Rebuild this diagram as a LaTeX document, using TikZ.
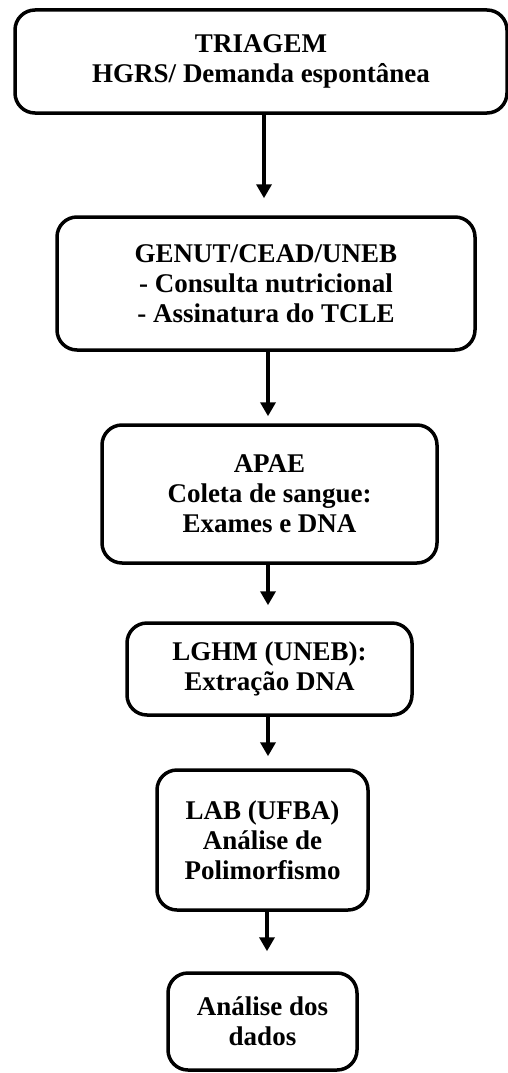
\documentclass[tikz,border=0pt]{standalone}
\usepackage{fontspec}
\setmainfont{Liberation Serif}
\usetikzlibrary{arrows.meta}
\begin{document}
\begin{tikzpicture}[x=1pt,y=-1pt,
  box/.style={draw,line width=3.5pt,rounded corners=20pt,align=center,
    font=\fontsize{27}{30}\selectfont\bfseries,inner sep=0pt},
  arr/.style={line width=3.8pt,-{Triangle[width=15pt,length=14pt]}}]
\useasboundingbox (0,0) rectangle (508,1073);
\node[box,minimum width=492pt,minimum height=103pt] (b1) at (261,61.5)
  {TRIAGEM\\HGRS/ Demanda espontânea};
\node[box,minimum width=418pt,minimum height=133pt] (b2) at (266,283.5)
  {GENUT/CEAD/UNEB\\- Consulta nutricional\\- Assinatura do TCLE};
\node[box,minimum width=335pt,minimum height=138pt] (b3) at (269.5,494)
  {APAE\\Coleta de sangue:\\Exames e DNA};
\node[box,minimum width=285pt,minimum height=92pt] (b4) at (269.5,669)
  {LGHM (UNEB):\\Extração DNA};
\node[box,minimum width=211pt,minimum height=140pt] (b5) at (262.5,840)
  {LAB (UFBA)\\Análise de\\Polimorfismo};
\node[box,minimum width=189pt,minimum height=97pt] (b6) at (262.5,1021.5)
  {Análise dos\\dados};
\coordinate (x1) at (264,0);
\coordinate (x2) at (268,0);
\coordinate (x5) at (267,0);
\draw[arr,shorten >=17pt] (b1.south -| x1) -- (b2.north -| x1);
\draw[arr,shorten >=7pt] (b2.south -| x2) -- (b3.north -| x2);
\draw[arr,shorten >=16pt] (b3.south -| x2) -- (b4.north -| x2);
\draw[arr,shorten >=12pt] (b4.south -| x2) -- (b5.north -| x2);
\draw[arr,shorten >=20pt] (b5.south -| x5) -- (b6.north -| x5);
\end{tikzpicture}
\end{document}
